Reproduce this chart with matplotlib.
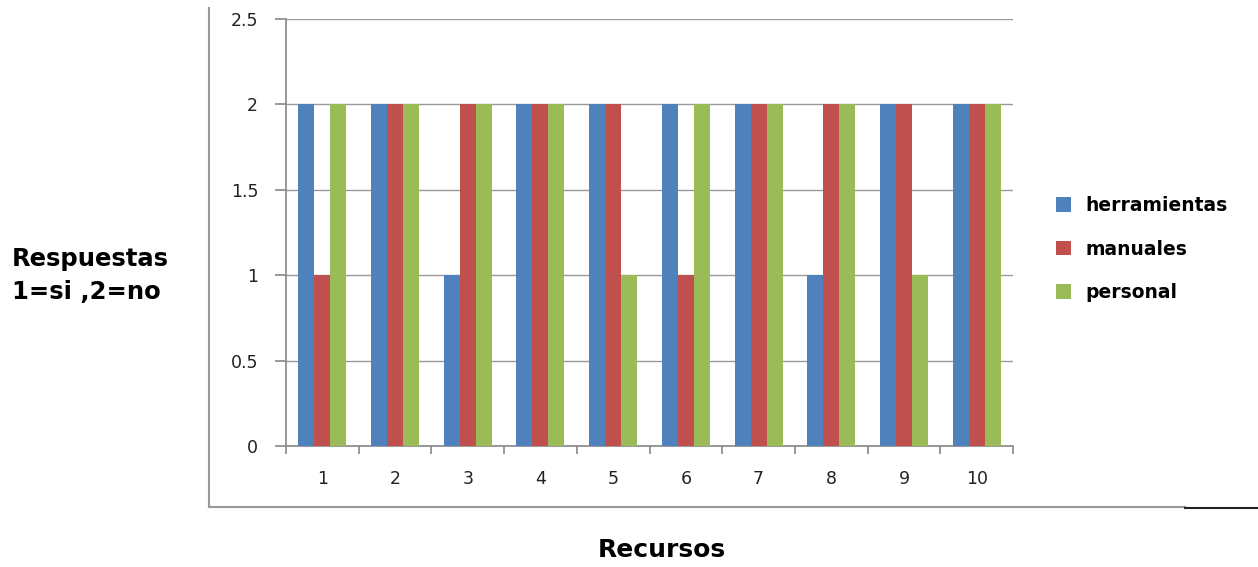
import matplotlib
matplotlib.use("Agg")
import matplotlib.pyplot as plt
import numpy as np
from matplotlib.lines import Line2D

categories = ["1", "2", "3", "4", "5", "6", "7", "8", "9", "10"]
herramientas = [2, 2, 1, 2, 2, 2, 2, 1, 2, 2]
manuales = [1, 2, 2, 2, 2, 1, 2, 2, 2, 2]
personal = [2, 2, 2, 2, 1, 2, 2, 2, 1, 2]
series_names = ["herramientas", "manuales", "personal"]
colors = ["#4F81BD", "#C0504D", "#9BBB59"]
yticks = [0, 0.5, 1, 1.5, 2, 2.5]

plt.rcParams['font.family'] = ['DejaVu Sans']
fig = plt.figure(figsize=(12.58, 5.67), dpi=100)
ax = fig.add_axes([0.2273, 0.2134, 0.578, 0.753])

x = np.arange(len(categories))
w = 0.22
for i, (vals, name, c) in enumerate(zip([herramientas, manuales, personal], series_names, colors)):
    ax.bar(x + (i - 1) * w, vals, width=w, color=c, label=name, zorder=3)

ax.set_xlim(-0.5, len(categories) - 0.5)
ax.set_ylim(0, 2.5)
ax.set_yticks(yticks)
ax.set_yticklabels([f"{t:g}" for t in yticks], fontsize=12.5, color="#222222")
ax.set_xticks(x)
ax.set_xticklabels(categories, fontsize=12.5, color="#222222")
ax.tick_params(axis='x', length=0, pad=17)
ax.set_xticks(np.arange(-0.5, len(categories)), minor=True)
ax.tick_params(axis='x', which='minor', length=6, color="#888888", width=1.2)
ax.tick_params(axis='y', length=8, color="#888888", width=1.2, pad=12)
ax.yaxis.grid(True, color="#999999", linewidth=1.0, zorder=0)
ax.set_axisbelow(True)
for s in ['top', 'right']:
    ax.spines[s].set_visible(False)
for s in ['left', 'bottom']:
    ax.spines[s].set_color("#888888")
    ax.spines[s].set_linewidth(1.2)

fig.text(0.0095, 0.514, "Respuestas\n1=si ,2=no", fontsize=17.5, fontweight='bold',
         ha='left', va='center', linespacing=1.45)
fig.text(0.526, 0.008, "Recursos", fontsize=18, fontweight='bold', ha='center', va='bottom')

leg = ax.legend(loc='center left', bbox_to_anchor=(0.8394, 0.5608),
                bbox_transform=fig.transFigure, frameon=False, borderpad=0, borderaxespad=0,
                fontsize=13.5, handlelength=0.8, handleheight=0.8, labelspacing=1.3,
                handletextpad=0.75)
for t in leg.get_texts():
    t.set_fontweight('bold')

fig.add_artist(Line2D([0.1661, 0.1661], [0.986, 0.106], color="#999999", linewidth=1.5))
fig.add_artist(Line2D([0.1661, 0.942], [0.106, 0.106], color="#999999", linewidth=1.5))
fig.add_artist(Line2D([0.942, 1.0], [0.104, 0.104], color="#222222", linewidth=1.5))

fig.savefig("out.png", dpi=100)
